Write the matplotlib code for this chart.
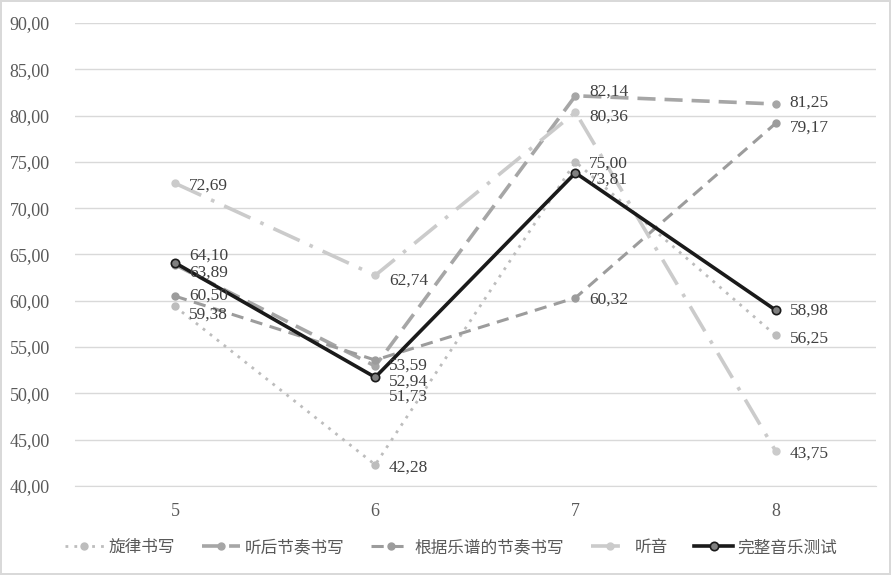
import numpy as np
import matplotlib
matplotlib.use("Agg")
import matplotlib.pyplot as plt

grades = ["5", "6", "7", "8"]
melody = [59.38, 42.28, 75.00, 56.25]          # 旋律书写
rhythm_listen = [63.89, 52.94, 82.14, 81.25]   # 听后节奏书写
rhythm_score = [60.50, 53.59, 60.32, 79.17]    # 根据乐谱的节奏书写
ear = [72.69, 62.74, 80.36, 43.75]             # 听音
total = [64.10, 51.73, 73.81, 58.98]           # 完整音乐测试

names = ["旋律书写", "听后节奏书写", "根据乐谱的节奏书写", "听音", "完整音乐测试"]
series = [melody, rhythm_listen, rhythm_score, ear, total]

styles = [
    dict(color="#bdbdbd", lw=2.0, ls=(0, (1, 2.2))),
    dict(color="#a6a6a6", lw=2.6, ls=(0, (5, 2.5))),
    dict(color="#9c9c9c", lw=2.2, ls=(0, (4, 2.5))),
    dict(color="#cbcbcb", lw=2.6, ls=(0, (8, 3, 1, 3))),
    dict(color="#1a1a1a", lw=2.6, ls="-"),
]

# label nudges in points (dx, dy) so overlapping labels stay readable
nudges = [
    [(10, -6), (10, -2), (10, -1), (10, -2)],
    [(10, -6), (10, -11), (10, 3), (10, 1)],
    [(10, 0), (10, -4), (10, -1), (10, -3)],
    [(10, -2), (10, -4), (10, -3), (10, -2)],
    [(10, 5), (10, -14), (10, -5), (10, 0)],
]

plt.rcParams["font.family"] = ["Liberation Serif", "Noto Sans CJK SC"]

fig = plt.figure(figsize=(8.91, 5.75), dpi=100)
fig.patch.set_edgecolor("#d9d9d9")
fig.patch.set_linewidth(1.5)
ax = fig.add_axes([0.084, 0.155, 0.899, 0.805])

x = np.arange(len(grades))
for vals, name, st, nd in zip(series, names, styles, nudges):
    if st["color"] == "#1a1a1a":
        mk = dict(marker="o", ms=6, mfc="#7f7f7f", mec="#1a1a1a", mew=1.2)
    else:
        mk = dict(marker="o", ms=5, mfc=st["color"], mec=st["color"])
    ax.plot(x, vals, label=name, zorder=3, **st, **mk)
    for xi, v, (dx, dy) in zip(x, vals, nd):
        ax.annotate(f"{v:.2f}".replace(".", ","), (xi, v), xytext=(dx, dy),
                    textcoords="offset points", ha="left", va="center",
                    fontsize=12.5, color="#404040", zorder=4)

ax.set_xlim(-0.5, 3.5)
ax.set_ylim(40, 90)
ax.set_yticks(np.arange(40, 91, 5))
ax.set_yticklabels([f"{t:.2f}".replace(".", ",") for t in np.arange(40, 91, 5)])
ax.set_xticks(x)
ax.set_xticklabels(grades)
ax.tick_params(length=0, labelsize=13, labelcolor="#595959", pad=12)
ax.tick_params(axis="y", pad=18)
ax.grid(axis="y", color="#d9d9d9", lw=1)
ax.set_axisbelow(True)
for s in ["top", "right", "left"]:
    ax.spines[s].set_visible(False)
ax.spines["bottom"].set_color("#d9d9d9")

ax.legend(loc="upper center", bbox_to_anchor=(0.47, -0.085), ncol=5, frameon=False,
          fontsize=12, handlelength=2.3, columnspacing=1.6, handletextpad=0.3,
          labelcolor="#595959")

plt.savefig("out.png", dpi=100)
